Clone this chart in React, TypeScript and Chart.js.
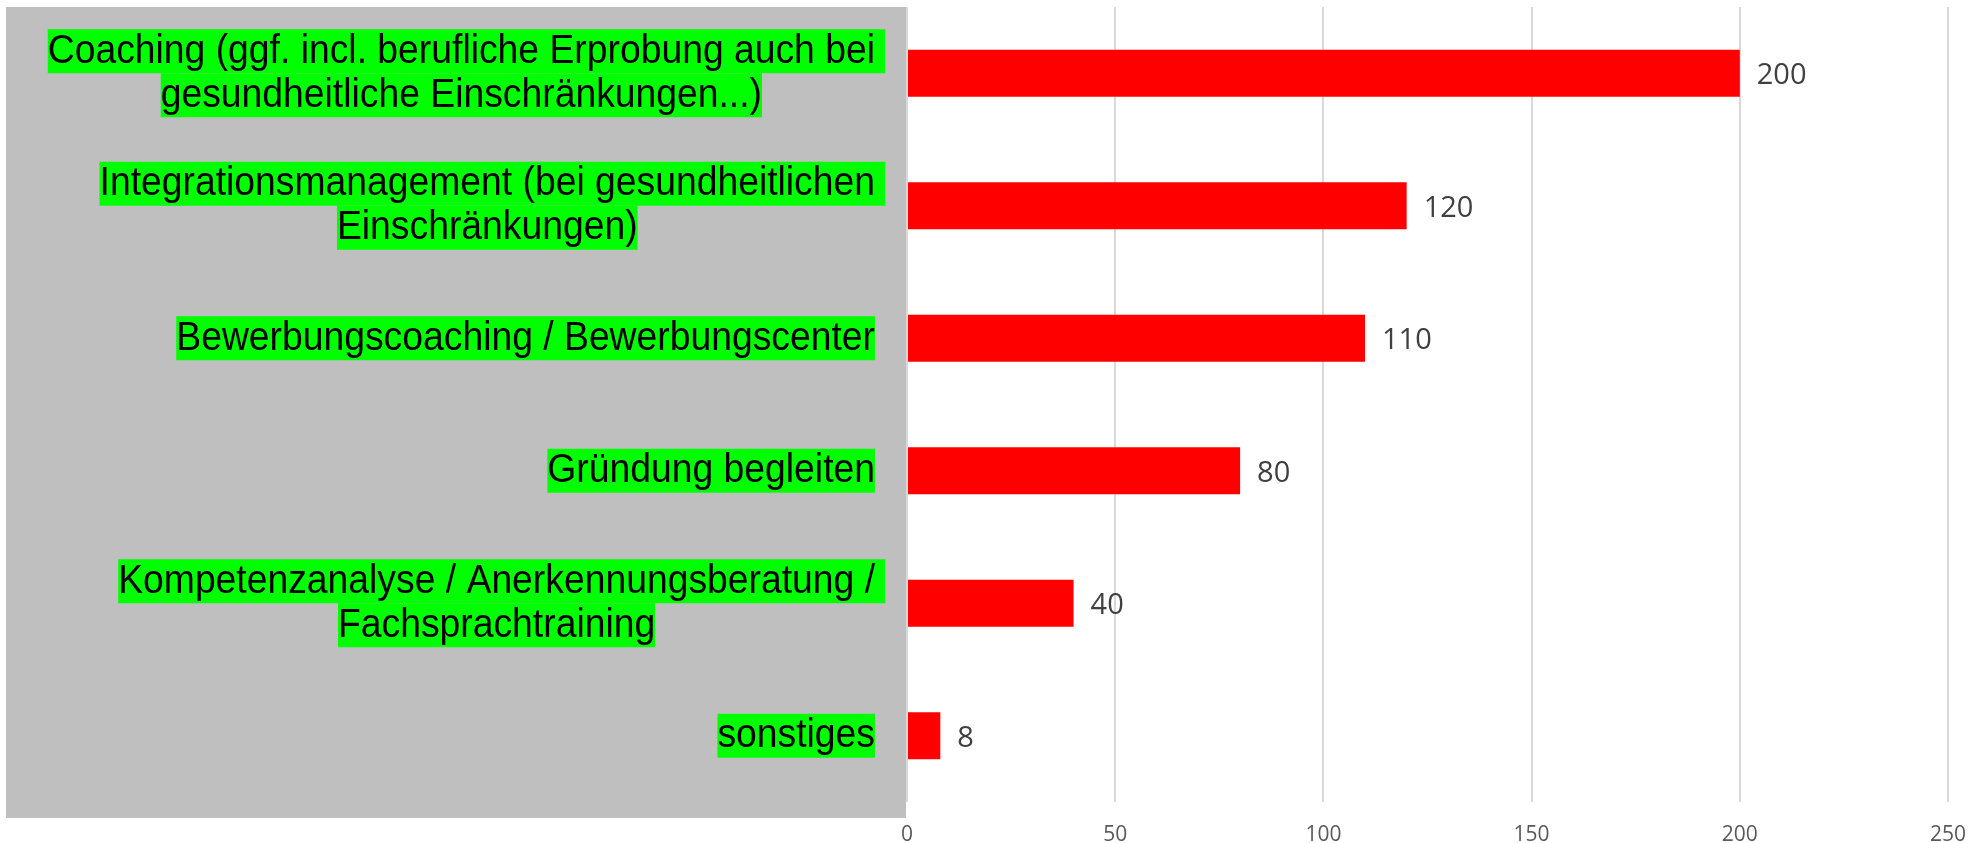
import React, { useEffect, useRef } from "react";
import { Chart, registerables } from "chart.js";

Chart.register(...registerables);

const categoryLines: string[][] = [
  ["Coaching (ggf. incl. berufliche Erprobung auch bei ", "gesundheitliche Einschränkungen...)"],
  ["Integrationsmanagement (bei gesundheitlichen ", "Einschränkungen)"],
  ["Bewerbungscoaching / Bewerbungscenter"],
  ["Gründung begleiten"],
  ["Kompetenzanalyse / Anerkennungsberatung / ", "Fachsprachtraining"],
  ["sonstiges"],
];
const values: number[] = [200, 120, 110, 80, 40, 8];
const axisMin = 0;
const axisMax = 250;
const axisStep = 50;

const W = 1986;
const H = 843;

const panelPlugin = {
  id: "panel",
  beforeDraw(chart: any) {
    const { ctx, chartArea } = chart;
    ctx.save();
    ctx.fillStyle = "#bfbfbf";
    ctx.fillRect(6, 7, chartArea.left - 1 - 6, 818 - 7);
    ctx.restore();
  },
};

const categoryLabelPlugin = {
  id: "catLabels",
  afterDraw(chart: any) {
    const { ctx } = chart;
    const yScale = chart.scales.y;
    const lineH = 44;
    const rightEdge = 875;
    ctx.save();
    ctx.font = '37.3px "Liberation Sans", Arial, sans-serif';
    ctx.textAlign = "left";
    ctx.textBaseline = "alphabetic";
    categoryLines.forEach((lines, i) => {
      const c = yScale.getPixelForValue(i);
      const widthsT = lines.map((l) => ctx.measureText(l.replace(/\s+$/, "")).width);
      const widthsF = lines.map((l) => ctx.measureText(l).width);
      const blockW = Math.max(...widthsT);
      const center = rightEdge - blockW / 2;
      const top = c - (lines.length * lineH) / 2;
      lines.forEach((l, j) => {
        const left = center - widthsT[j] / 2;
        const bt = top + j * lineH;
        ctx.fillStyle = "#00ff00";
        ctx.fillRect(left, bt, widthsF[j], lineH);
        ctx.fillStyle = "#000000";
        ctx.save();
        ctx.translate(left, bt + 33.5);
        ctx.scale(1, 1.07);
        ctx.fillText(l, 0, 0);
        ctx.restore();
      });
    });
    ctx.restore();
  },
};

const valueLabelPlugin = {
  id: "valLabels",
  afterDatasetsDraw(chart: any) {
    const { ctx } = chart;
    const meta = chart.getDatasetMeta(0);
    ctx.save();
    ctx.font = '29px "Open Sans", sans-serif';
    ctx.fillStyle = "#404040";
    ctx.textAlign = "left";
    ctx.textBaseline = "middle";
    meta.data.forEach((el: any, i: number) => {
      ctx.fillText(String(values[i]), el.x + 17, el.y + 2.5);
    });
    ctx.restore();
  },
};

export default function App() {
  const ref = useRef<HTMLCanvasElement>(null);
  useEffect(() => {
    if (!ref.current) return;
    const chart = new Chart(ref.current, {
      type: "bar",
      data: {
        labels: categoryLines.map((l) => l.join("")),
        datasets: [
          {
            data: values,
            backgroundColor: "#ff0000",
            borderWidth: 0,
            barPercentage: 47 / 132.5,
            categoryPercentage: 1,
          },
        ],
      },
      options: {
        indexAxis: "y",
        responsive: false,
        animation: false,
        devicePixelRatio: 1,
        layout: { padding: { top: 7, right: 38, left: 0, bottom: 0 } },
        plugins: { legend: { display: false }, tooltip: { enabled: false } },
        scales: {
          x: {
            min: axisMin,
            max: axisMax,
            ticks: {
              stepSize: axisStep,
              color: "#595959",
              font: { family: '"Open Sans", sans-serif', size: 21 },
              padding: 20,
            },
            grid: { color: "#d9d9d9", lineWidth: 2, drawTicks: false },
            border: { display: false },
            afterFit(scale: any) {
              scale.height = 41;
            },
          },
          y: {
            ticks: { display: false },
            grid: { display: false, drawTicks: false },
            border: { display: false },
            afterFit(scale: any) {
              scale.width = 907;
            },
          },
        },
      },
      plugins: [panelPlugin, categoryLabelPlugin, valueLabelPlugin],
    } as any);
    return () => chart.destroy();
  }, []);
  return (
    <div style={{ position: "absolute", left: 0, top: 0, width: W, height: H }}>
      <canvas ref={ref} width={W} height={H} />
    </div>
  );
}
